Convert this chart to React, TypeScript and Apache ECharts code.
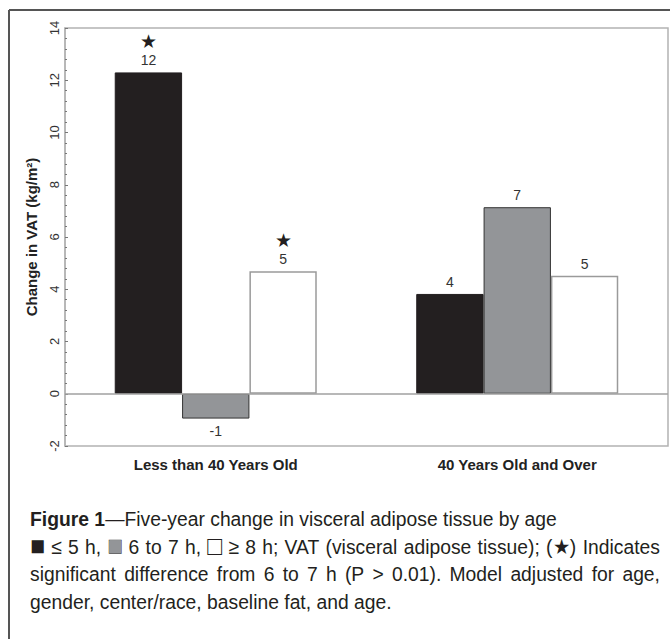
import React, { useEffect, useRef } from "react";
import * as echarts from "echarts";

const categories = ["Less than 40 Years Old", "40 Years Old and Over"];
const shortSleep = [12.3, 3.82];
const midSleep = [-0.95, 7.14];
const longSleep = [4.69, 4.52];
const shortSig = [true, false];
const midSig = [false, false];
const longSig = [true, false];
const yMin = -2;
const yMax = 14;
const yInterval = 2;

const captionTitle = "Figure 1";
const captionLine1 = "—Five-year change in visceral adipose tissue by age";
const captionLine2 = "■ ≤ 5 h, ■ 6 to 7 h, □ ≥ 8 h; VAT (visceral adipose tissue); (★) Indicates";
const captionLine3 = "significant difference from 6 to 7 h (P > 0.01). Model adjusted for age,";
const captionLine4 = "gender, center/race, baseline fat, and age.";

const ARIAL = "'Liberation Sans', Arial, sans-serif";
const CAP_SIZE = 21;
const SQ_SIZE = 27;
const CAP_SCALE = 0.92;
const CAP_LEFT = 30;
const CAP_RIGHT = 660;
const CAP_TOP = 519;
const CAP_LH = 27.5;

function makeData(values: number[], sig: boolean[]) {
  return values.map((v, i) => ({
    value: v,
    sig: sig[i],
    label: { position: v < 0 ? "bottom" : "top" },
  }));
}

function labelFormatter(p: any) {
  const r = Math.round(p.value);
  const sig = p.data && p.data.sig;
  return sig ? "{s|★}\n{v|" + r + "}" : "{v|" + r + "}";
}

const labelCommon = {
  show: true,
  formatter: labelFormatter,
  distance: 4,
  rich: {
    s: { fontSize: 19, lineHeight: 22, color: "#231f20", fontFamily: ARIAL },
    v: { fontSize: 14, lineHeight: 16, color: "#333", fontFamily: ARIAL },
  },
};

function isSquare(w: string) {
  return w === "■" || w === "□";
}

function fontFor(w: string, bold = false) {
  const size = isSquare(w) ? SQ_SIZE : CAP_SIZE;
  return (bold ? "bold " : "") + size + "px " + ARIAL;
}

function measure(text: string, bold = false) {
  const c = document.createElement("canvas").getContext("2d");
  if (!c) return text.length * CAP_SIZE * 0.5 * CAP_SCALE;
  c.font = fontFor(text, bold);
  return c.measureText(text).width * CAP_SCALE;
}

function tokenStyle(word: string, squareIndex: number) {
  if (word === "■" && squareIndex === 0) return { fill: "#231f20" };
  if (word === "■" && squareIndex === 1)
    return { fill: "#939598", stroke: "#333", lineWidth: 0.8 };
  return { fill: "#231f20" };
}

function justifiedLine(line: string, y: number) {
  const words = line.split(" ");
  const widths = words.map((w) => measure(w));
  const total = widths.reduce((a, b) => a + b, 0);
  const gap = (CAP_RIGHT - CAP_LEFT - total) / (words.length - 1);
  let x = CAP_LEFT;
  let sq = 0;
  return words.map((w, i) => {
    const st = tokenStyle(w, sq);
    if (w === "■") sq++;
    const el = {
      type: "text",
      x,
      y: isSquare(w) ? y - 1 : y,
      scaleX: CAP_SCALE,
      style: {
        text: w,
        font: fontFor(w),
        textVerticalAlign: "middle",
        verticalAlign: "middle",
        ...st,
      },
    };
    x += widths[i] + gap;
    return el;
  });
}

function plainLine(text: string, y: number, x: number, bold = false) {
  return {
    type: "text",
    x,
    y,
    scaleX: CAP_SCALE,
    style: {
      text,
      font: (bold ? "bold " : "") + CAP_SIZE + "px " + ARIAL,
      fill: "#231f20",
      textVerticalAlign: "middle",
      verticalAlign: "middle",
    },
  };
}

export default function App() {
  const ref = useRef<HTMLDivElement>(null);
  useEffect(() => {
    if (!ref.current) return;
    const chart = echarts.init(ref.current, null, { renderer: "svg" });
    const titleW = measure(captionTitle, true);
    chart.setOption({
      animation: false,
      backgroundColor: "#fff",
      grid: {
        left: 65,
        right: 2,
        top: 28,
        bottom: 193,
        show: true,
        borderColor: "#b3b3b3",
        borderWidth: 1.5,
      },
      xAxis: {
        type: "category",
        data: categories,
        axisLine: { show: false, onZero: false },
        axisTick: { show: false },
        axisLabel: {
          color: "#222",
          fontWeight: "bold",
          fontSize: 15,
          fontFamily: ARIAL,
          margin: 11,
        },
      },
      yAxis: {
        type: "value",
        min: yMin,
        max: yMax,
        interval: yInterval,
        name: "Change in VAT (kg/m²)",
        nameLocation: "middle",
        nameGap: 26,
        nameTextStyle: {
          fontWeight: "bold",
          fontSize: 15,
          color: "#222",
          fontFamily: ARIAL,
        },
        axisLine: { show: true, lineStyle: { color: "#b3b3b3", width: 1.5 } },
        axisTick: { show: true, inside: true, length: 3, lineStyle: { color: "#777" } },
        minorTick: { show: true, splitNumber: 5, length: 2, lineStyle: { color: "#777" } },
        splitLine: { show: false },
        axisLabel: {
          rotate: 90,
          color: "#333",
          fontSize: 13,
          fontFamily: ARIAL,
          margin: 4,
        },
      },
      series: [
        {
          type: "bar",
          name: "≤ 5 h",
          data: makeData(shortSleep, shortSig),
          barCategoryGap: "33%",
          barGap: "0%",
          itemStyle: { color: "#231f20", borderColor: "#231f20", borderWidth: 1 },
          label: labelCommon,
          markLine: {
            silent: true,
            symbol: "none",
            label: { show: false },
            lineStyle: { color: "#a0a0a0", type: "solid", width: 1.5 },
            data: [{ yAxis: 0 }],
          },
        },
        {
          type: "bar",
          name: "6 to 7 h",
          data: makeData(midSleep, midSig),
          barCategoryGap: "33%",
          barGap: "0%",
          itemStyle: { color: "#939598", borderColor: "#333", borderWidth: 1 },
          label: labelCommon,
        },
        {
          type: "bar",
          name: "≥ 8 h",
          data: makeData(longSleep, longSig),
          barCategoryGap: "33%",
          barGap: "0%",
          itemStyle: { color: "#ffffff", borderColor: "#9a9a9a", borderWidth: 1.5 },
          label: labelCommon,
        },
      ],
      graphic: [
        {
          type: "line",
          shape: { x1: 9, y1: 10, x2: 670, y2: 10 },
          style: { stroke: "#555", lineWidth: 2 },
        },
        {
          type: "line",
          shape: { x1: 9, y1: 10, x2: 9, y2: 639 },
          style: { stroke: "#555", lineWidth: 2 },
        },
        plainLine(captionTitle, CAP_TOP, CAP_LEFT, true),
        plainLine(captionLine1, CAP_TOP, CAP_LEFT + titleW),
        ...justifiedLine(captionLine2, CAP_TOP + CAP_LH),
        ...justifiedLine(captionLine3, CAP_TOP + 2 * CAP_LH),
        plainLine(captionLine4, CAP_TOP + 3 * CAP_LH, CAP_LEFT),
      ],
    });
    return () => chart.dispose();
  }, []);
  return (
    <div
      ref={ref}
      style={{ position: "fixed", left: 0, top: 0, width: 670, height: 639 }}
    />
  );
}
